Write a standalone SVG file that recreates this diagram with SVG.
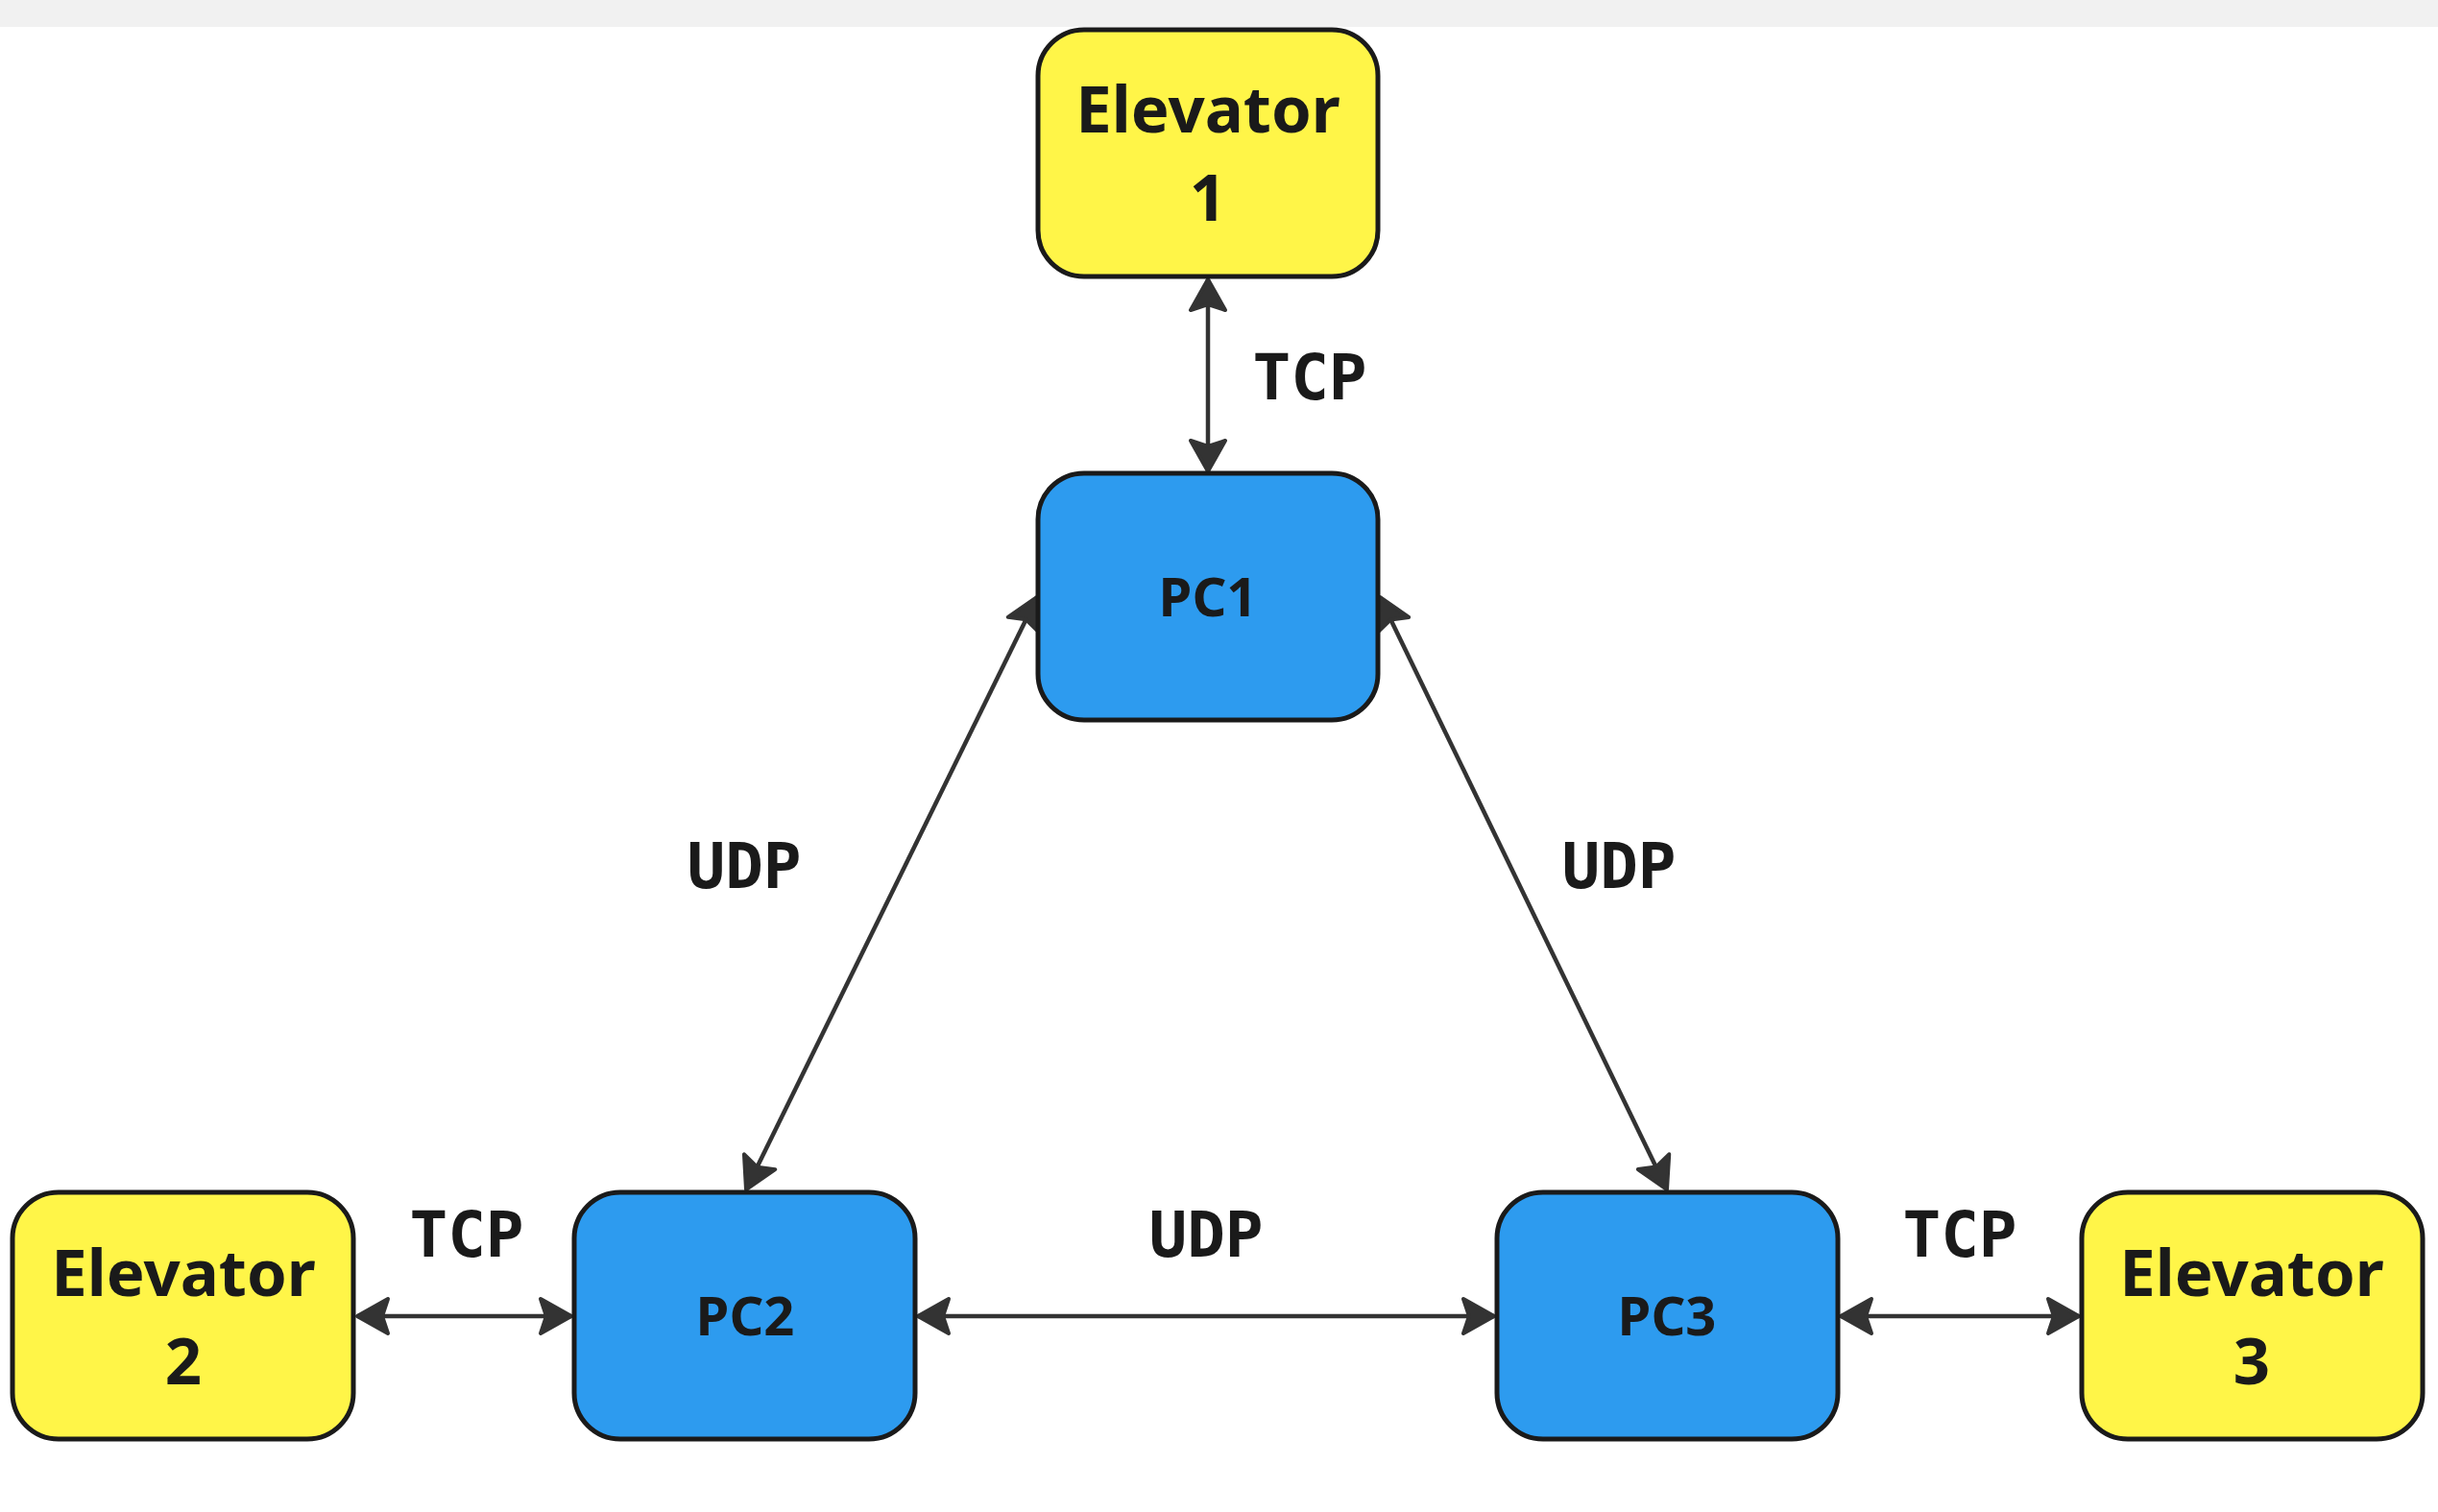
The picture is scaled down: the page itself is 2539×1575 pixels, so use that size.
<svg xmlns="http://www.w3.org/2000/svg" width="2539" height="1575" viewBox="0 0 2539 1575">
<style>
.elev{fill:#FFF548;stroke:#1a1a1a;stroke-width:5}
.pc{fill:#2D9BEF;stroke:#1a1a1a;stroke-width:5}
.t{font-family:"Noto Sans","Open Sans","Liberation Sans",sans-serif;font-weight:700;fill:#1a1a1a;text-anchor:middle}
.big{font-size:67px}
.mid{font-size:56px}
.lbl{font-family:"DejaVu Sans Mono","Liberation Mono",monospace;font-size:66px}
.conn{stroke:#333333;stroke-width:4.5;fill:none;marker-start:url(#ah);marker-end:url(#ah)}
</style>
<defs>
<marker id="ah" markerUnits="userSpaceOnUse" markerWidth="60" markerHeight="60" refX="0" refY="0" orient="auto-start-reverse" overflow="visible">
<path d="M0,0 L-32,-18 L-26,0 L-32,18 Z" fill="#333333" stroke="#333333" stroke-width="4" stroke-linejoin="round"/>
</marker>
</defs>
<rect x="0" y="0" width="2539" height="28" fill="#f1f1f1"/>
<rect x="0" y="28" width="2539" height="1547" fill="#ffffff"/>
<g id="connectors">
<path class="conn" d="M1258,291 L1258,491"/>
<path class="conn" d="M1080,622 L777,1239"/>
<path class="conn" d="M1437,622 L1736,1239"/>
<path class="conn" d="M372,1371 L595,1371"/>
<path class="conn" d="M956,1371 L1556,1371"/>
<path class="conn" d="M1917,1371 L2165,1371"/>
</g>
<g id="labels">
<text class="t lbl" x="1364" y="416">TCP</text>
<text class="t lbl" x="775" y="925">UDP</text>
<text class="t lbl" x="1686" y="925">UDP</text>
<text class="t lbl" x="1256" y="1309">UDP</text>
<text class="t lbl" x="486" y="1309">TCP</text>
<text class="t lbl" x="2041" y="1309">TCP</text>
</g>
<g id="elevator1">
<rect class="elev" x="1081" y="31" width="354" height="257" rx="48"/>
<text class="t big" x="1258" y="138">Elevator</text>
<text class="t big" x="1258" y="230">1</text>
</g>
<g id="pc1">
<rect class="pc" x="1081" y="493" width="354" height="257" rx="48"/>
<text class="t mid" x="1258" y="642">PC1</text>
</g>
<g id="elevator2">
<rect class="elev" x="13" y="1242" width="355" height="257" rx="48"/>
<text class="t big" x="191" y="1350">Elevator</text>
<text class="t big" x="191" y="1442">2</text>
</g>
<g id="pc2">
<rect class="pc" x="598" y="1242" width="355" height="257" rx="48"/>
<text class="t mid" x="776" y="1391">PC2</text>
</g>
<g id="pc3">
<rect class="pc" x="1559" y="1242" width="355" height="257" rx="48"/>
<text class="t mid" x="1736" y="1391">PC3</text>
</g>
<g id="elevator3">
<rect class="elev" x="2168" y="1242" width="355" height="257" rx="48"/>
<text class="t big" x="2345" y="1350">Elevator</text>
<text class="t big" x="2345" y="1442">3</text>
</g>
</svg>
